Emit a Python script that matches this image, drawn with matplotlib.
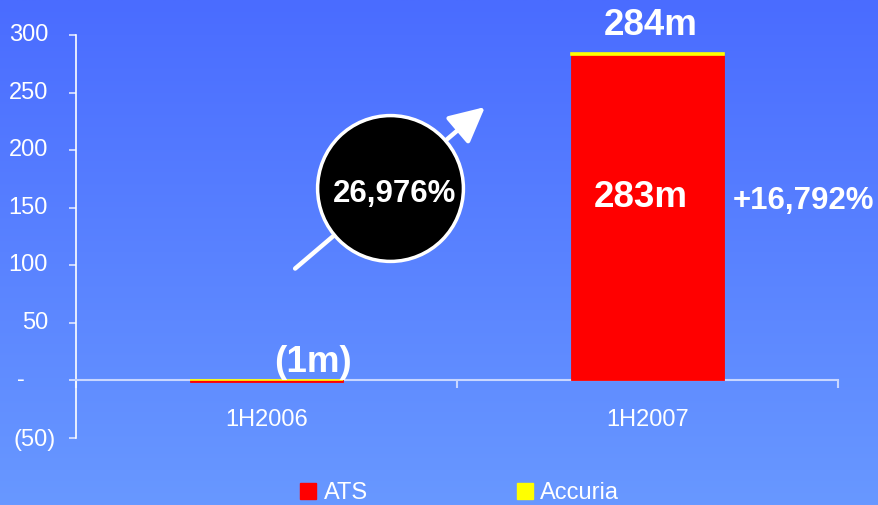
import numpy as np
import matplotlib.pyplot as plt
import matplotlib.transforms as mtransforms
from matplotlib.lines import Line2D

plt.rcParams['font.family'] = ['Liberation Sans', 'DejaVu Sans']

# half-year results, in millions
periods = ['1H2006', '1H2007']
ats = [-1, 283]
accuria = [0, 1]
y_ticks = [300, 250, 200, 150, 100, 50, 0, -50]
y_tick_labels = ['300', '250', '200', '150', '100', '50', '-', '(50)']
growth_total = '+16,792%'
growth_ats = '26,976%'

def money(v):
    return f'({abs(v)}m)' if v < 0 else f'{v}m'

totals = [a + b for a, b in zip(ats, accuria)]

fig = plt.figure(figsize=(8.79, 5.05), dpi=100)

# blue gradient backdrop
bg = fig.add_axes([0, 0, 1, 1], zorder=-10)
grad = np.linspace(0, 1, 256)[:, None]
top = np.array([74, 108, 255]) / 255
bottom = np.array([104, 152, 255]) / 255
img = top + grad[..., None] * (bottom - top)
bg.imshow(np.repeat(img, 2, axis=1), aspect='auto', extent=[0, 1, 0, 1])
bg.axis('off')

ax = fig.add_axes([76 / 879, 67 / 505, 762 / 879, 403 / 505])
ax.set_facecolor('none')

x = np.arange(len(periods))
w = 0.4
ax.bar(x, ats, w, color='#ff0000', edgecolor='#ff0000', linewidth=0.6, zorder=3)
ax.bar(x, accuria, w, bottom=[max(a, 0) for a in ats], color='#ffff00',
       edgecolor='#ffff00', linewidth=1.2, zorder=3)

ax.set_xlim(-0.5, 1.5)
ax.set_ylim(-50, 300)

# spines
for s in ['top', 'right']:
    ax.spines[s].set_visible(False)
ax.spines['left'].set_color('white')
ax.spines['left'].set_linewidth(1.2)
ax.spines['bottom'].set_position(('data', 0))
ax.spines['bottom'].set_color('#c9d6ff')
ax.spines['bottom'].set_linewidth(1.5)

ax.set_yticks(y_ticks)
ax.set_yticklabels([])
ax.tick_params(axis='y', direction='out', length=5, width=1.2, color='#dfe6ff')
ax.set_xticks(x)
ax.set_xticklabels([])
ax.tick_params(axis='x', which='major', length=0)
ax.set_xticks([-0.5, 0.5, 1.5], minor=True)
ax.tick_params(axis='x', which='minor', direction='out', length=6, width=1.5,
               color='#c9d6ff')

# y labels in accounting style
ytrans = mtransforms.blended_transform_factory(fig.transFigure, ax.transData)
for v, lab in zip(y_ticks, y_tick_labels):
    if lab == '-':
        ax.text(21 / 879, v, lab, transform=ytrans, ha='center', va='center',
                color='white', fontsize=17)
    elif lab.startswith('('):
        ax.text(56 / 879, v - 2, lab, transform=ytrans, ha='right', va='center',
                color='white', fontsize=17)
    else:
        ax.text(48 / 879, v, lab, transform=ytrans, ha='right', va='center',
                color='white', fontsize=17)

for xi, p in zip(x, periods):
    ax.text(xi, -34, p, ha='center', va='center', color='white', fontsize=17)

# value labels
ax.text(0.122, 15.6, money(totals[0]), ha='center', va='center', color='white',
        fontsize=26.5, fontweight='bold', zorder=5)
ax.text(1.009, 308, money(totals[1]), ha='center', va='center', color='white',
        fontsize=26.5, fontweight='bold', clip_on=False, zorder=5)
ax.text(0.983, 159, money(ats[1]), ha='center', va='center', color='white',
        fontsize=26.5, fontweight='bold', zorder=5)
ax.text(1.41, 155.5, growth_total, ha='center', va='center', color='white',
        fontsize=22.5, fontweight='bold', clip_on=False, zorder=5)

# growth arrow with circle badge
ax.annotate('', xy=(0.579, 239), xytext=(0.0696, 95.6),
            arrowprops=dict(arrowstyle='-|>,head_length=1.2,head_width=0.6',
                            color='white', lw=3.2, mutation_scale=18),
            zorder=4)
ax.plot([0.324], [166.8], marker='o', markersize=105, markerfacecolor='black',
        markeredgecolor='white', markeredgewidth=2.5, zorder=5)
ax.text(0.336, 162, growth_ats, ha='center', va='center', color='white',
        fontsize=22.5, fontweight='bold', zorder=6)

# legend
handles = [Line2D([], [], marker='s', linestyle='none', markersize=11.5,
                  markerfacecolor=c, markeredgecolor=c)
           for c in ['#ff0000', '#ffff00']]
fig.legend(handles, ['ATS', 'Accuria'], loc='center', ncol=2,
           bbox_to_anchor=(0.523, 0.024), frameon=False, fontsize=17,
           labelcolor='white', handlelength=0.7, handletextpad=0.3,
           columnspacing=6.3, borderpad=0)

fig.savefig('out.png', dpi=100)
